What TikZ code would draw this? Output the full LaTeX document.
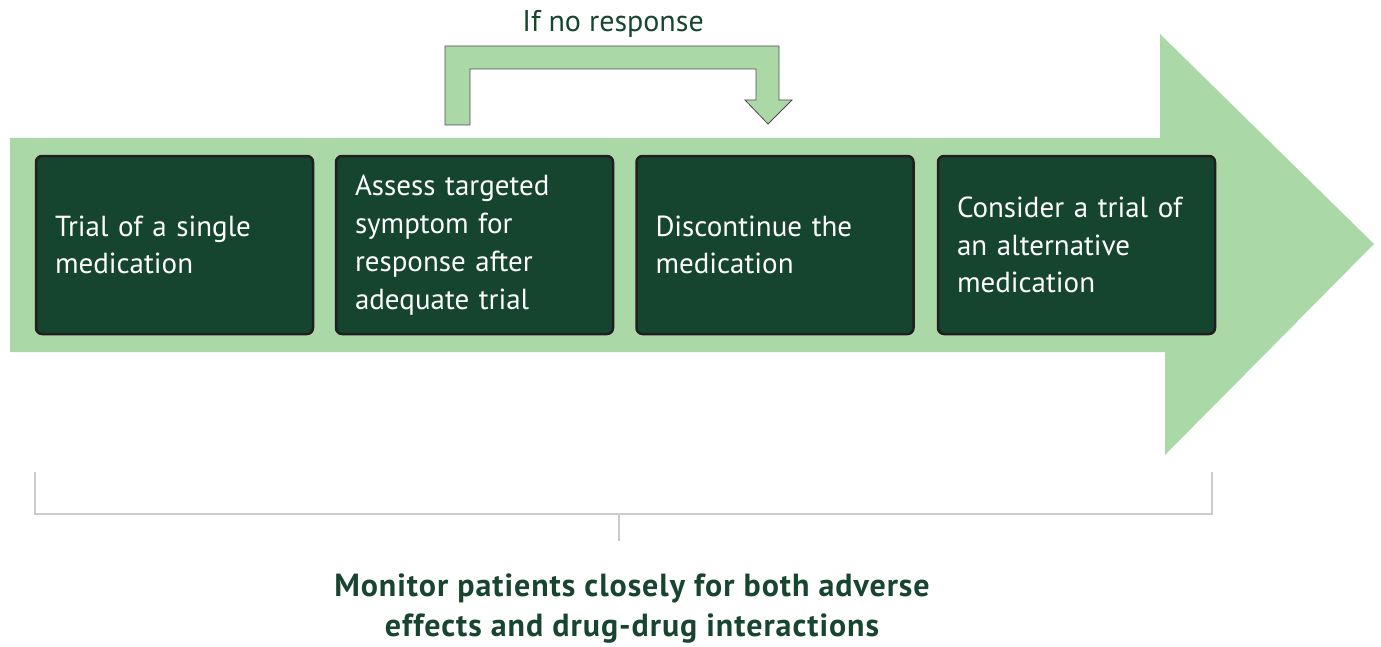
\documentclass[tikz,border=0pt]{standalone}
\usepackage{fontspec}
\setmainfont{PT Sans}
\definecolor{leafgreen}{HTML}{ABD8A7}
\definecolor{forest}{HTML}{15452F}
\definecolor{edgeblack}{HTML}{231F20}
\definecolor{inkgreen}{HTML}{17452F}
\definecolor{bracketgray}{HTML}{CCCCCC}
\tikzset{
  stepbox/.style={draw=edgeblack, line width=1.25pt, fill=forest, rounded corners=3pt,
    minimum width=138.5pt, minimum height=89pt, inner xsep=9.5pt, inner ysep=0pt,
    text width=119.5pt, align=left, text=white,
    font=\fontsize{14.5}{18.9}\selectfont},
  flowarrow/.style={fill=leafgreen, draw=none},
  loopback/.style={fill=leafgreen, draw=edgeblack!80, line width=0.4pt},
  bracket/.style={draw=bracketgray, line width=1pt},
}
\begin{document}
\begin{tikzpicture}[x=0.5pt, y=-0.5pt]
  \useasboundingbox (0,0) rectangle (1381,647);
  % main process arrow
  \path[flowarrow] (10,138) -- (1160,138) -- (1160,34) -- (1374,244)
    -- (1165,455) -- (1165,352) -- (10,352) -- cycle;
  % loop-back arrow
  \path[loopback] (445,125) -- (445,46) -- (779,46) -- (779,100) -- (792,100)
    -- (768,124) -- (745,100) -- (756,100) -- (756,69) -- (470,69) -- (470,125) -- cycle;
  \node[text=inkgreen, font=\fontsize{15}{18}\selectfont] (cond) at (613,24) {If no response};
  % steps
  \node[stepbox] (s1) at (174.5,245) {Trial of a single\\medication};
  \node[stepbox] (s2) at (474.5,245) {Assess targeted\\symptom for\\response after\\adequate trial};
  \node[stepbox] (s3) at (775,245) {Discontinue the\\medication};
  \node[stepbox] (s4) at (1076.5,245) {Consider a trial of\\an alternative\\medication};
  % bracket spanning all steps
  \coordinate (bl) at (35,472);
  \coordinate (br) at (1212,472);
  \coordinate (bm) at (619,514);
  \coordinate (bt) at (619,541);
  \draw[bracket] (bl) -- (35,514) -- (1212,514) -- (br);
  \draw[bracket] (bm) -- (bt);
  \node[text=inkgreen, font=\bfseries\addfontfeatures{LetterSpace=3}\fontsize{16}{20}\selectfont,
    align=center] (note) at (632,609)
    {Monitor patients closely for both adverse\\effects and drug-drug interactions};
\end{tikzpicture}
\end{document}
